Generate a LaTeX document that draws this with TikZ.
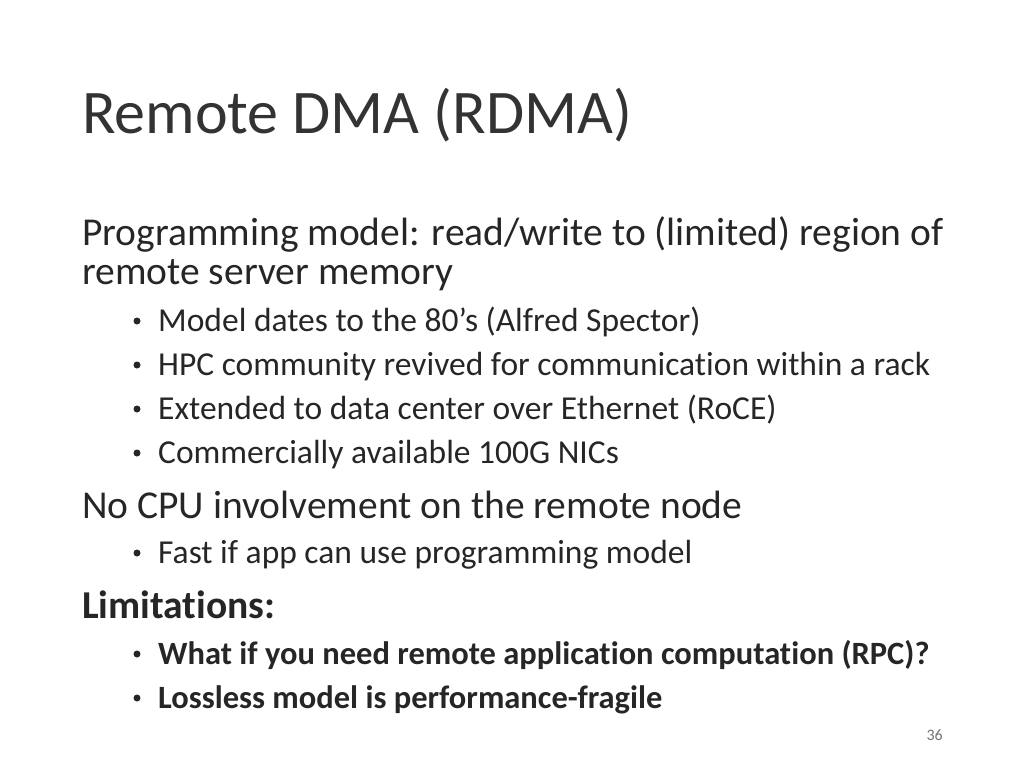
\documentclass[tikz,border=0pt]{standalone}
\usepackage{fontspec}
\setmainfont[Ligatures={NoCommon,NoRare,NoDiscretionary}]{Carlito}
\usetikzlibrary{positioning}
\tikzset{
  txt/.style={anchor=base west, inner sep=0pt, text=black!85},
  lvlone/.style={txt, font=\fontsize{39.5}{42}\selectfont},
  lvltwo/.style={txt, font=\fontsize{33.5}{36}\selectfont},
  dot/.style={circle, fill=black!85, inner sep=0pt, minimum size=7pt}
}
\begin{document}
\begin{tikzpicture}[x=1pt, y=-1pt]
    \useasboundingbox (0,0) rectangle (1024,768);
    % Title
    \node[txt, font=\fontsize{62}{66}\selectfont, text=black!80] (title) at (82,133) {Remote DMA (RDMA)};

    % First block
    \node[lvlone] (prog) at (82,245) {Programming model: read/write to (limited) region of};
    \node[lvlone] (prog2) at (82,284) {remote server memory};
    \foreach \y/\t [count=\i] in {331/{Model dates to the 80’s (Alfred Spector)},
        375/{HPC community revived for communication within a rack},
        419/{Extended to data center over Ethernet (RoCE)},
        463/{Commercially available 100G NICs}} {
        \node[dot] (b\i) at (137,\y-10) {};
        \node[lvltwo] (t\i) at (158,\y) {\t};
    }

    % Second block
    \node[lvlone] (cpu) at (82,518) {No CPU involvement on the remote node};
    \node[dot] (b5) at (137,563-10) {};
    \node[lvltwo] (t5) at (158,563) {Fast if app can use programming model};

    % Limitations
    \node[lvlone, font=\fontsize{39.5}{42}\selectfont\bfseries] (lim) at (82,618) {Limitations:};
    \node[dot] (b6) at (137,664-10) {};
    \node[lvltwo, font=\fontsize{32.5}{36}\selectfont\bfseries] (t6) at (158,664) {What if you need remote application computation (RPC)?};
    \node[dot] (b7) at (137,708-10) {};
    \node[lvltwo, font=\fontsize{32.5}{36}\selectfont\bfseries] (t7) at (158,708) {Lossless model is performance-fragile};

    % Page number
    \node[anchor=base east, inner sep=0pt, text=black!55, font=\fontsize{16}{18}\selectfont] (page) at (943,740) {36};
\end{tikzpicture}
\end{document}
